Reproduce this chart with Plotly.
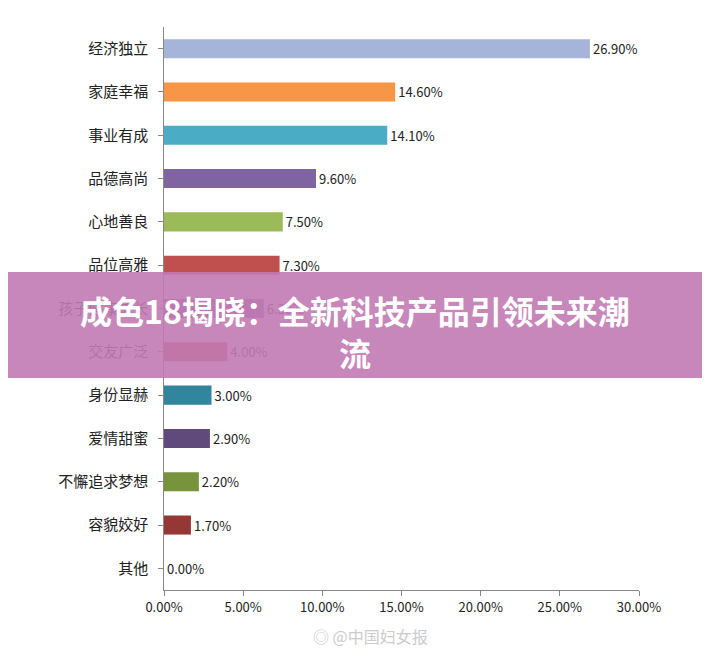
import plotly.graph_objects as go

# 类别与数值
categories = ['经济独立', '家庭幸福', '事业有成', '品德高尚', '心地善良', '品位高雅',
              '孩子健康成长', '交友广泛', '身份显赫', '爱情甜蜜', '不懈追求梦想', '容貌姣好', '其他']
values = [26.9, 14.6, 14.1, 9.6, 7.5, 7.3, 6.3, 4.0, 3.0, 2.9, 2.2, 1.7, 0.0]
colors = ['#a5b4d8', '#f79646', '#4bacc6', '#8064a2', '#9bbb59', '#c0504d',
          '#8064a2', '#c0504d', '#31859c', '#604a7b', '#77933c', '#953735', '#4f81bd']
tick_vals = [0, 5, 10, 15, 20, 25, 30]
tick_text = ['0.00%', '5.00%', '10.00%', '15.00%', '20.00%', '25.00%', '30.00%']

# 页面有 8px 边距，整体向左上偏移
W, H = 702, 647
L, R, T, B = 156, 71, 19, 65
PH = H - T - B
PW = W - L - R

fig = go.Figure(go.Bar(
    x=values, y=categories, orientation='h',
    marker=dict(color=colors, line=dict(width=0)),
    text=[f'{v:.2f}%' for v in values], textposition='outside',
    textfont=dict(size=13, color='#222'), cliponaxis=False,
))

fig.update_layout(
    width=W, height=H,
    margin=dict(l=L, r=R, t=T, b=B, autoexpand=False),
    plot_bgcolor='white', paper_bgcolor='white',
    font=dict(family='Noto Sans CJK SC', size=15, color='#222'),
    bargap=0.56, showlegend=False,
    xaxis=dict(range=[0, 30], tickvals=tick_vals, ticktext=tick_text, automargin=False,
               showgrid=False, showline=True, linecolor='#888', ticks='outside',
               ticklen=5, tickcolor='#888', tickfont=dict(size=13)),
    yaxis=dict(autorange='reversed', showline=True, linecolor='#888', automargin=False,
               ticks='outside', ticklen=5, tickcolor='#888', ticksuffix='  '),
)

# 中间的标题横幅
fig.add_shape(type='rect', xref='paper', yref='paper', x0=-1, x1=2,
              y0=(H - 370 - B) / PH, y1=(H - 264 - B) / PH,
              fillcolor='rgba(194,122,178,0.9)', line=dict(width=0), layer='above')
fig.add_annotation(xref='paper', yref='paper', x=(347 - L) / PW, y=(H - 323 - B) / PH,
                   text='<b>成色18揭晓：全新科技产品引领未来潮<br>流</b>', showarrow=False,
                   font=dict(size=32, color='white', family='Noto Sans CJK SC'),
                   align='center', xanchor='center', yanchor='middle')
# 水印
fig.add_annotation(xref='paper', yref='paper', x=(362 - L) / PW, y=(H - 628 - B) / PH,
                   text='◎ @中国妇女报', showarrow=False,
                   font=dict(size=16, color='#cccccc'), xanchor='center', yanchor='middle')

fig.write_html('out.html')
